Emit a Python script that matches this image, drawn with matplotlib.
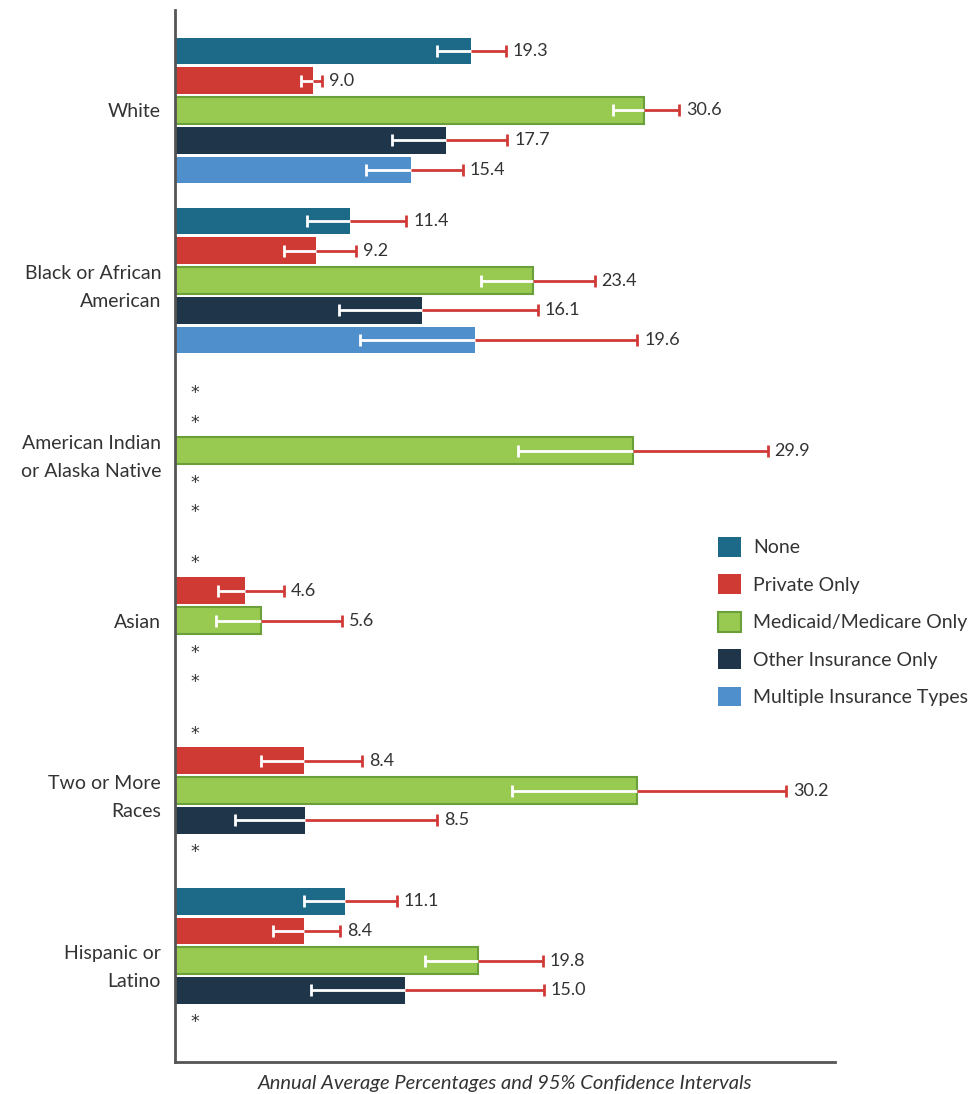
import matplotlib
matplotlib.use("Agg")
import matplotlib.pyplot as plt
from matplotlib.patches import Patch
import numpy as np

plt.rcParams['font.family'] = ['Lato', 'DejaVu Sans']

groups = ["White", "Black or African\nAmerican", "American Indian\nor Alaska Native",
          "Asian", "Two or More\nRaces", "Hispanic or\nLatino"]
series = ["None", "Private Only", "Medicaid/Medicare Only", "Other Insurance Only",
          "Multiple Insurance Types"]
colors = ["#1c6a87", "#cf3a35", "#98c951", "#1f364a", "#4f90cc"]
edges = [None, None, "#6a9f3a", None, None]

# values (None = suppressed, shown as *)
values = [
    [19.3, 9.0, 30.6, 17.7, 15.4],
    [11.4, 9.2, 23.4, 16.1, 19.6],
    [None, None, 29.9, None, None],
    [None, 4.6, 5.6, None, None],
    [None, 8.4, 30.2, 8.5, None],
    [11.1, 8.4, 19.8, 15.0, None],
]
lower = [
    [17.1, 8.2, 28.6, 14.2, 12.5],
    [8.6, 7.1, 20.0, 10.7, 12.1],
    [None, None, 22.4, None, None],
    [None, 2.8, 2.7, None, None],
    [None, 5.6, 22.0, 3.9, None],
    [8.4, 6.4, 16.3, 8.9, None],
]
upper = [
    [21.6, 9.6, 32.9, 21.7, 18.8],
    [15.1, 11.8, 27.4, 23.7, 30.2],
    [None, None, 38.7, None, None],
    [None, 7.1, 10.9, None, None],
    [None, 12.2, 39.9, 17.1, None],
    [14.5, 10.8, 24.0, 24.1, None],
]

fig = plt.figure(figsize=(9.75, 10.94), dpi=100)
ax = fig.add_axes([175/975, 32/1094, 660/975, 1052/1094])

gap = 5.72
red = "#d03b37"
for g in range(len(groups)):
    for k in range(len(series)):
        y = g * gap + (k - 2)
        v = values[g][k]
        if v is None:
            ax.text(1.3, y + 0.08, "*", ha="center", va="center", fontsize=12.5,
                    color="#333333", family="DejaVu Sans")
            continue
        ax.barh(y, v, height=0.9, color=colors[k],
                edgecolor=edges[k] if edges[k] else colors[k],
                linewidth=1.5 if edges[k] else 0, zorder=2)
        lo, hi = lower[g][k], upper[g][k]
        ax.plot([lo, v], [y, y], color="white", lw=2, zorder=3, solid_capstyle="butt")
        ax.plot([lo], [y], marker="|", ms=9, mew=2, color="white", zorder=3)
        ax.plot([v, hi], [y, y], color=red, lw=2, zorder=3, solid_capstyle="butt")
        ax.plot([hi], [y], marker="|", ms=9, mew=2, color=red, zorder=3)
        ax.annotate(f"{v:.1f}", (hi, y), xytext=(5, 0), textcoords="offset points",
                    va="center", ha="left", fontsize=13, color="#333333")

ax.set_xlim(0, 43.1)
ax.set_ylim(5 * gap + 2 + 1.41, -3.38)
ax.set_yticks([g * gap for g in range(len(groups))])
ax.set_yticklabels(groups, fontsize=14, color="#333333", linespacing=1.75)
for lbl in ax.get_yticklabels():
    if "\n" in lbl.get_text():
        lbl.set_y(lbl.get_position()[1])
ax.set_xticks([])
ax.tick_params(axis="y", length=0, pad=10)
for s in ["top", "right"]:
    ax.spines[s].set_visible(False)
for s in ["left", "bottom"]:
    ax.spines[s].set_color("#555555")
    ax.spines[s].set_linewidth(2)

ax.set_xlabel("Annual Average Percentages and 95% Confidence Intervals",
              fontsize=14.5, style="italic", color="#333333", labelpad=9)

handles = [Patch(facecolor=colors[k], edgecolor=edges[k] if edges[k] else colors[k],
                 linewidth=1.5 if edges[k] else 0) for k in range(len(series))]
leg = fig.legend(handles, series, loc="upper left", bbox_to_anchor=(710/975, 1 - 529/1094),
                 frameon=False, fontsize=14, handlelength=1.2, handleheight=1.2,
                 handletextpad=0.6, labelspacing=0.9, borderaxespad=0)
for t in leg.get_texts():
    t.set_color("#333333")

fig.savefig("out.png", dpi=100)
